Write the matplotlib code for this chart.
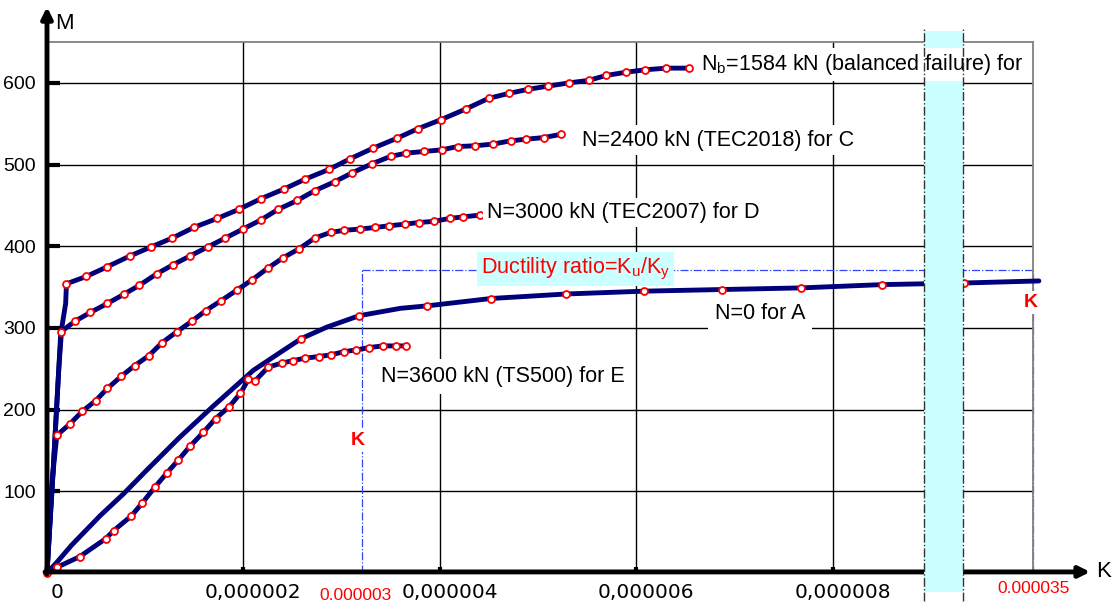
import matplotlib.pyplot as plt
from matplotlib.patches import Rectangle
from matplotlib.transforms import ScaledTranslation

plt.rcParams['font.family'] = 'Liberation Sans'
plt.rcParams['mathtext.fontset'] = 'custom'
plt.rcParams['mathtext.rm'] = 'Liberation Sans'
plt.rcParams['mathtext.it'] = 'Liberation Sans:italic'

# curvature in units of 1e-6, moment M
SCALE = 1e-6

# Nb=1584 kN (balanced failure) for B
k_b = [0, 0.06, 0.12, 0.15, 0.19, 0.198, 0.40, 0.616, 0.843, 1.057, 1.276, 1.495, 1.733, 1.951,
       2.175, 2.413, 2.627, 2.871, 3.086, 3.32, 3.56, 3.78, 4.013, 4.265, 4.496, 4.70, 4.897,
       5.10, 5.318, 5.515, 5.692, 5.896, 6.093, 6.307, 6.535]
m_b = [0, 120, 250, 300, 330, 354, 363, 375, 388, 399, 410, 423, 434, 445,
       458, 470, 482, 494, 507, 520, 532, 544, 555, 568, 581, 587, 592,
       596, 600, 603, 609, 613, 616, 618, 618]
mk_b = list(range(5, len(k_b)))

# N=2400 kN (TEC2018) for C
k_c = [0, 0.06, 0.12, 0.14, 0.282, 0.442, 0.616, 0.78, 0.938, 1.115, 1.278, 1.455, 1.635, 1.815,
       1.995, 2.175, 2.352, 2.548, 2.726, 2.93, 3.11, 3.31, 3.50, 3.66, 3.84, 4.02, 4.18,
       4.36, 4.54, 4.72, 4.877, 5.056, 5.236]
m_c = [0, 120, 250, 295, 308, 319, 330, 341, 352, 366, 377, 388, 399, 410,
       421, 432, 445, 456, 468, 479, 490, 501, 510, 514, 516, 518, 522,
       523, 525, 529, 531, 533, 537]
mk_c = list(range(3, len(k_c)))

# N=3000 kN (TEC2007) for D
k_d = [0, 0.05, 0.10, 0.238, 0.36, 0.496, 0.616, 0.758, 0.894, 1.037, 1.172, 1.319, 1.472,
       1.615, 1.768, 1.93, 2.09, 2.247, 2.406, 2.569, 2.726, 2.889, 3.028, 3.185, 3.344,
       3.48, 3.643, 3.786, 3.942, 4.10, 4.24, 4.404]
m_d = [0, 110, 168.5, 183, 198, 211, 226, 241, 254, 266, 282, 295, 308,
       321, 333, 346, 359, 373, 386, 397, 410, 417, 419.5, 421, 423,
       425, 427, 429, 430.5, 434, 436, 438]
mk_d = list(range(2, len(k_d)))

# N=0 for A
k_a = [0, 0.1, 0.25, 0.54, 0.78, 1.0, 1.35, 1.69, 2.1, 2.4, 2.59, 2.85, 3.18, 3.6, 3.87, 4.52,
       5.28, 6.08, 6.87, 7.68, 8.5, 9.34, 10.1]
m_a = [0, 13, 34, 70, 97, 124, 166, 204, 248, 272, 287, 301, 315, 324, 327, 336,
       341.5, 345, 347, 349, 353, 355, 357.5]
mk_a = [10, 12, 14, 15, 16, 17, 18, 19, 20, 21]

# N=3600 kN (TS500) for E
k_e = [0, 0.102, 0.333, 0.598, 0.68, 0.86, 0.972, 1.098, 1.217, 1.336, 1.455, 1.59, 1.717,
       1.855, 1.97, 2.05, 2.117, 2.253, 2.39, 2.508, 2.627, 2.77, 2.889, 3.028, 3.147,
       3.282, 3.42, 3.55, 3.66]
m_e = [0, 7, 20, 42, 52, 70, 86, 105, 122, 138, 155, 172, 189,
       203.5, 220, 237, 235, 252, 257, 260, 263, 265, 267, 271, 273,
       276, 278, 278, 278]
mk_e = list(range(len(k_e)))

x_ticks = [0, 2, 4, 6, 8]
x_ticklabels = ['0', '0,000002', '0,000004', '0,000006', '0,000008']
y_ticks = [100, 200, 300, 400, 500, 600]

k_y = 3.21      # yield curvature marker (label 0.000003)
k_u = 10.04     # ultimate curvature marker (label 0.000035)
m_ref = 371
band = (8.93, 9.33)

NAVY = '#00007a'

fig = plt.figure(figsize=(11.14, 6.05), dpi=100)
ax = fig.add_axes([47 / 1114, 32 / 605, 986 / 1114, 531 / 605])
ax.set_xlim(0, k_u * SCALE)
ax.set_ylim(0, 650)

for k, m, mk in [(k_b, m_b, mk_b), (k_c, m_c, mk_c), (k_d, m_d, mk_d),
                 (k_a, m_a, mk_a), (k_e, m_e, mk_e)]:
    kk = [v * SCALE for v in k]
    ax.plot(kk, m, color=NAVY, lw=3.5, solid_capstyle='round', solid_joinstyle='round',
            zorder=3, clip_on=False)
    ax.plot([kk[i] for i in mk], [m[i] for i in mk], ls='none', marker='o', ms=5,
            mfc='white', mec='red', mew=1.3, zorder=4, clip_on=False)

# grid
ax.set_xticks([v * SCALE for v in x_ticks])
ax.set_xticklabels(x_ticklabels, fontsize=14.5, family='DejaVu Sans')
ax.set_yticks(y_ticks)
ax.set_yticklabels([str(v) for v in y_ticks], fontsize=14)
ax.grid(True, color='black', lw=1.0, zorder=1)
ax.tick_params(axis='y', direction='in', length=9, width=3, pad=8)
ax.tick_params(axis='x', direction='in', length=4, width=3, pad=7)
for lab in ax.get_xticklabels():
    lab.set_transform(lab.get_transform() + ScaledTranslation(0.1, 0, fig.dpi_scale_trans))
for sp in ['left', 'bottom']:
    ax.spines[sp].set_visible(False)
for sp in ['top', 'right']:
    ax.spines[sp].set_color('#808080')
    ax.spines[sp].set_linewidth(1.3)

# axes with arrows
ax.annotate('', xy=(0, 1.066), xytext=(0, -0.002), xycoords='axes fraction',
            arrowprops=dict(arrowstyle='-|>', lw=3.5, color='black', mutation_scale=16,
                            shrinkA=0, shrinkB=0), zorder=4)
ax.annotate('', xy=(1.058, 0.002), xytext=(-0.002, 0.002), xycoords='axes fraction',
            arrowprops=dict(arrowstyle='-|>', lw=3.5, color='black', mutation_scale=16,
                            shrinkA=0, shrinkB=0), zorder=4)
ax.text(0.008, 1.034, 'M', transform=ax.transAxes, fontsize=16, va='center', ha='left')
ax.text(1.064, 0.002, 'K', transform=ax.transAxes, fontsize=16, va='center', ha='left')

# ductility reference lines
ax.plot([k_y * SCALE, k_u * SCALE], [m_ref, m_ref], color='#3344ff', lw=0.9, ls='-.', zorder=2)
ax.plot([k_y * SCALE, k_y * SCALE], [0, m_ref], color='#3344ff', lw=0.9, ls='-.', zorder=2)
ax.plot([k_u * SCALE, k_u * SCALE], [0, m_ref], color='#3344ff', lw=0.9, ls='-.', zorder=2,
        clip_on=False)

# axis break band
ax.add_patch(Rectangle((band[0] * SCALE, -23), (band[1] - band[0]) * SCALE, 686,
                       facecolor='#ccffff', edgecolor='none', zorder=5, clip_on=False))
for bx in band:
    ax.plot([bx * SCALE, bx * SCALE], [-34, 668], color='#333333', lw=1.0, ls='-.',
            zorder=7, clip_on=False)

# curve labels
wbox = dict(facecolor='white', edgecolor='none', pad=3)
ax.text(6.66 * SCALE, 622, 'N$_{\\mathrm{b}}$=1584 kN (balanced failure) for', fontsize=15.5,
        va='center', ha='left', bbox=wbox, zorder=6)
ax.text(5.45 * SCALE, 530, 'N=2400 kN (TEC2018) for C', fontsize=15.5,
        va='center', ha='left', bbox=wbox, zorder=6)
ax.text(4.48 * SCALE, 441, 'N=3000 kN (TEC2007) for D', fontsize=15.5,
        va='center', ha='left', bbox=wbox, zorder=6)
ax.text(6.80 * SCALE, 318, 'N=0 for A', fontsize=15.5,
        va='center', ha='left', bbox=dict(facecolor='white', edgecolor='none', pad=5), zorder=6)
ax.text(3.40 * SCALE, 241, 'N=3600 kN (TS500) for E', fontsize=15.5,
        va='center', ha='left', bbox=dict(facecolor='white', edgecolor='none', pad=5), zorder=6)
ax.text(4.42 * SCALE, 372, 'Ductility ratio=K$_{\\mathrm{u}}$/K$_{\\mathrm{y}}$', fontsize=15.5,
        color='red', va='center', ha='left',
        bbox=dict(facecolor='#ccffff', edgecolor='none', pad=3), zorder=6)

ax.text(3.16 * SCALE, 162, 'K', color='red', fontsize=14, fontweight='bold',
        va='center', ha='center', bbox=dict(facecolor='white', edgecolor='none', pad=2), zorder=6)
ax.text(10.02 * SCALE, 331, 'K', color='red', fontsize=14, fontweight='bold',
        va='center', ha='center', bbox=dict(facecolor='white', edgecolor='none', pad=2), zorder=6)

# red markers on x axis
ax.text(3.14 * SCALE, -0.043, '0.000003', color='red', fontsize=12.5, ha='center', va='center',
        transform=ax.get_xaxis_transform())
ax.text(10.05 * SCALE, -0.029, '0.000035', color='red', fontsize=12.5, ha='center', va='center',
        transform=ax.get_xaxis_transform())

fig.savefig('out.png', dpi=100)
